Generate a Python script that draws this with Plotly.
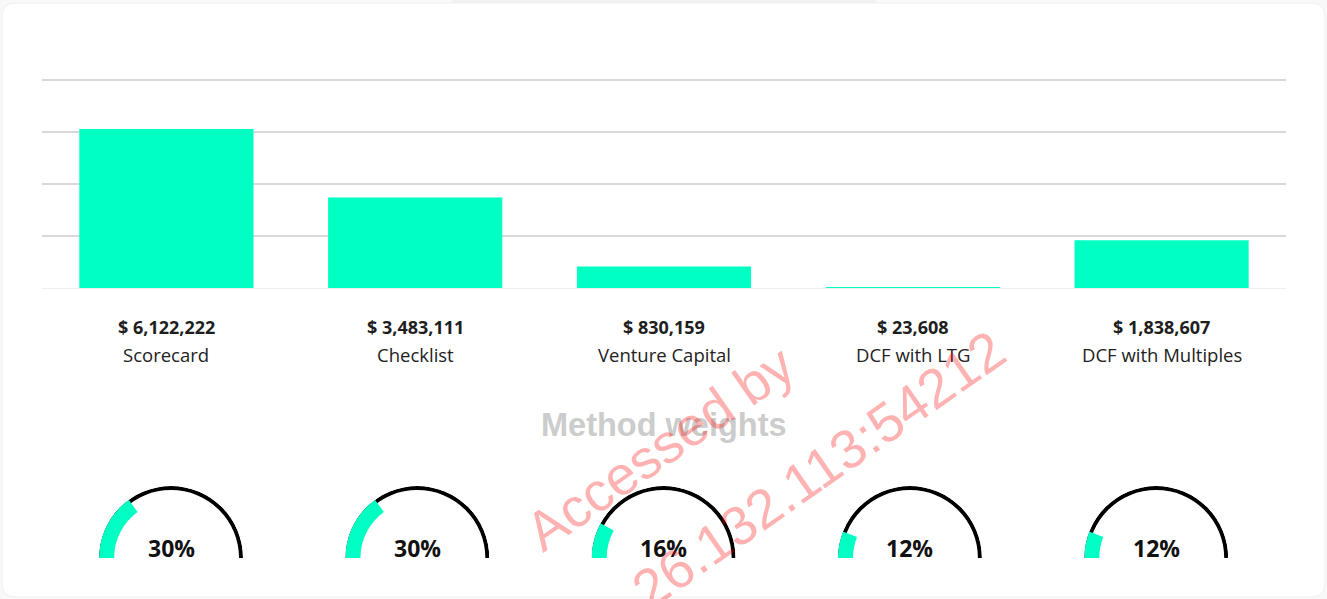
import plotly.graph_objects as go

# ---- data ----
methods = ["Scorecard", "Checklist", "Venture Capital", "DCF with LTG", "DCF with Multiples"]
valuations = [6122222, 3483111, 830159, 23608, 1838607]
weights = [30, 30, 16, 12, 12]
title_weights = "Method weights"
watermark_lines = ["Accessed by", "26.132.113:54212"]

W, H = 1327, 599
CYAN = "#00FFC3"


def px(x):
    return x / W


def py(y):
    return 1 - y / H


fig = go.Figure()

fig.add_trace(go.Bar(
    x=methods, y=valuations, marker_color=CYAN, marker_line_width=0,
    width=0.7, hoverinfo="skip", showlegend=False,
))

annotations = []
for m, v in zip(methods, valuations):
    annotations.append(dict(
        x=m, xref="x", y=py(327), yref="paper", text=f"<b>$ {v:,}</b>",
        showarrow=False, xanchor="center", yanchor="middle",
        font=dict(family="Open Sans", size=18, color="#1e1e1e"),
    ))
    annotations.append(dict(
        x=m, xref="x", y=py(354), yref="paper", text=m,
        showarrow=False, xanchor="center", yanchor="middle",
        font=dict(family="Open Sans", size=18.5, color="#222222"),
    ))

annotations.append(dict(
    x=px(664), y=py(425), xref="paper", yref="paper", text=f"<b>{title_weights}</b>",
    showarrow=False, xanchor="center", yanchor="middle",
    font=dict(family="Liberation Sans", size=32.5, color="#cccccc"),
))

# gauges
R = 72
CY = 558
polars = {}
for i, w in enumerate(weights):
    key = "polar" if i == 0 else f"polar{i + 1}"
    cx = 171 + i * 246.3
    fig.add_trace(go.Barpolar(
        r=[0.055], base=[0.945], theta=[90], width=[180],
        marker_color="black", marker_line_width=0, subplot=key,
        hoverinfo="skip", showlegend=False,
    ))
    fig.add_trace(go.Barpolar(
        r=[0.21], base=[0.79], theta=[180 - w * 0.9], width=[w * 1.8],
        marker_color=CYAN, marker_line_width=0, subplot=key,
        hoverinfo="skip", showlegend=False,
    ))
    polars[key] = dict(
        domain=dict(x=[px(cx - R), px(cx + R)], y=[py(CY), py(CY - R)]),
        sector=[0, 180], hole=0, bgcolor="rgba(0,0,0,0)",
        radialaxis=dict(visible=False, range=[0, 1]),
        angularaxis=dict(visible=False),
    )
    annotations.append(dict(
        x=px(cx), y=py(548), xref="paper", yref="paper", text=f"<b>{w}%</b>",
        showarrow=False, xanchor="center", yanchor="middle",
        font=dict(family="Open Sans", size=23, color="#111111"),
    ))

# watermark
annotations.append(dict(
    x=px(660), y=py(448), xref="paper", yref="paper", text=watermark_lines[0],
    showarrow=False, textangle=-35, xanchor="center", yanchor="middle",
    font=dict(family="Liberation Sans", size=55, color="rgba(255,0,0,0.3)"),
))
annotations.append(dict(
    x=px(818), y=py(470), xref="paper", yref="paper", text=watermark_lines[1],
    showarrow=False, textangle=-35, xanchor="center", yanchor="middle",
    font=dict(family="Liberation Sans", size=55, color="rgba(255,0,0,0.3)"),
))

# card background (rounded rect in paper coords)
x0, x1, y0, y1 = 2, 1325, 3, 597
r = 14
rx, ry = r / W, r / H
X0, X1, Y0, Y1 = px(x0), px(x1), py(y1), py(y0)
card = (f"M {X0 + rx},{Y0} L {X1 - rx},{Y0} Q {X1},{Y0} {X1},{Y0 + ry} "
        f"L {X1},{Y1 - ry} Q {X1},{Y1} {X1 - rx},{Y1} L {X0 + rx},{Y1} "
        f"Q {X0},{Y1} {X0},{Y1 - ry} L {X0},{Y0 + ry} Q {X0},{Y0} {X0 + rx},{Y0} Z")
shapes = [
    dict(type="path", path=card, xref="paper", yref="paper",
         fillcolor="white", line=dict(width=1, color="#f0f0f0"), layer="below"),
    dict(type="rect", xref="paper", yref="paper", x0=px(452), x1=px(876),
         y0=py(3), y1=py(0), fillcolor="#f1f1f1", line=dict(width=0), layer="below"),
]

fig.update_layout(
    width=W, height=H, margin=dict(l=0, r=0, t=0, b=0),
    paper_bgcolor="#f8f8f8", plot_bgcolor="rgba(0,0,0,0)",
    showlegend=False, bargap=0.3,
    xaxis=dict(domain=[px(42), px(1286)], range=[-0.5, 4.5], showticklabels=False,
               showgrid=False, zeroline=False, showline=False, fixedrange=True),
    yaxis=dict(domain=[py(288), py(78)], range=[0, 8.08e6], dtick=2e6, tick0=0,
               showticklabels=False, gridcolor="#d9d9d9", gridwidth=1.5,
               zeroline=True, zerolinecolor="#efefef", zerolinewidth=1,
               showline=False, fixedrange=True),
    annotations=annotations, shapes=shapes,
    **polars,
)

fig.write_html("out.html")
